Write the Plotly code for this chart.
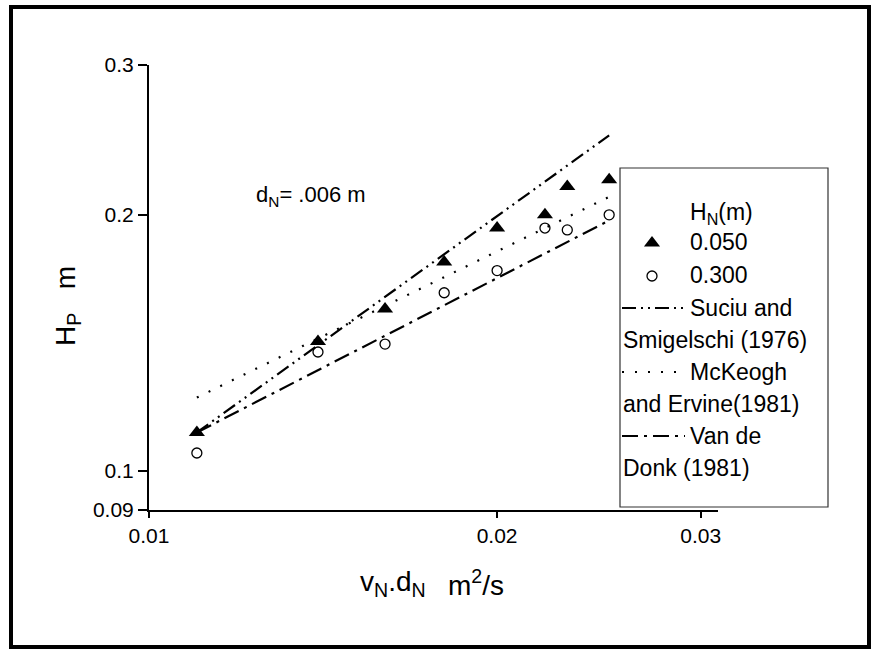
import plotly.graph_objects as go
import math

W, H = 872, 655

# ---- data ----
vd_obs = [0.011, 0.014, 0.016, 0.018, 0.020, 0.022, 0.023, 0.025]
hp_050 = [0.111, 0.142, 0.155, 0.176, 0.193, 0.200, 0.216, 0.220]
hp_300 = [0.105, 0.138, 0.141, 0.162, 0.172, 0.193, 0.192, 0.200]

vd_line = [0.011, 0.025]
hp_suciu = [0.111, 0.248]
hp_mckeogh = [0.122, 0.210]
hp_vandonk = [0.111, 0.197]

x_ticks = [0.01, 0.02, 0.03]
x_ticktext = ["0.01", "0.02", "0.03"]
y_ticks = [0.09, 0.1, 0.2, 0.3]
y_ticktext = ["0.09", "0.1", "0.2", "0.3"]

FONT = "Liberation Sans, Arial, sans-serif"

# plot area in pixels
L, R, T, B = 149, 718, 65, 510

def PX(x):
    return (x - L) / (R - L)

def PY(y):
    return (B - y) / (B - T)

SUCIU_DASH = "14px,5px,2px,5px,2px,5px"
MCK_DASH = "2px,11px"
VAN_DASH = "16px,6px,3px,6px"

fig = go.Figure()

fig.add_trace(go.Scatter(x=vd_line, y=hp_suciu, mode="lines",
                         line=dict(color="black", width=2.2, dash=SUCIU_DASH), showlegend=False))
fig.add_trace(go.Scatter(x=vd_line, y=hp_mckeogh, mode="lines",
                         line=dict(color="black", width=2.2, dash=MCK_DASH), showlegend=False))
fig.add_trace(go.Scatter(x=vd_line, y=hp_vandonk, mode="lines",
                         line=dict(color="black", width=2.2, dash=VAN_DASH), showlegend=False))
fig.add_trace(go.Scatter(x=vd_obs, y=hp_050, mode="markers", cliponaxis=False,
                         marker=dict(symbol="triangle-up", size=14, color="black"), showlegend=False))
fig.add_trace(go.Scatter(x=vd_obs, y=hp_300, mode="markers", cliponaxis=False,
                         marker=dict(symbol="circle-open", size=10, color="black", line=dict(width=1.3)),
                         showlegend=False))

# legend marker samples on a pixel overlay axis
fig.add_trace(go.Scatter(x=[652], y=[243], mode="markers", xaxis="x2", yaxis="y2", cliponaxis=False,
                         marker=dict(symbol="triangle-up", size=14, color="black"), showlegend=False))
fig.add_trace(go.Scatter(x=[652], y=[276], mode="markers", xaxis="x2", yaxis="y2", cliponaxis=False,
                         marker=dict(symbol="circle-open", size=10, color="black", line=dict(width=1.3)),
                         showlegend=False))

shapes = []
# outer frame
shapes.append(dict(type="rect", xref="paper", yref="paper",
                   x0=PX(11), x1=PX(869), y0=PY(7), y1=PY(647),
                   line=dict(color="black", width=4)))
# legend box
shapes.append(dict(type="rect", xref="paper", yref="paper",
                   x0=PX(620), x1=PX(828), y0=PY(168), y1=PY(507),
                   line=dict(color="#333333", width=1.2), layer="above"))
# legend line samples
for yy, dash in [(308, SUCIU_DASH), (372, MCK_DASH), (436, VAN_DASH)]:
    shapes.append(dict(type="line", xref="paper", yref="paper",
                       x0=PX(622), x1=PX(685), y0=PY(yy), y1=PY(yy),
                       line=dict(color="black", width=2.2, dash=dash), layer="above"))

annotations = []
def txt(x, y, s, size=23, anchor="left", angle=0):
    annotations.append(dict(x=PX(x), y=PY(y), xref="paper", yref="paper", text=s,
                            showarrow=False, xanchor=anchor, yanchor="middle", textangle=angle,
                            font=dict(family=FONT, size=size, color="black")))

txt(688, 213, "H<sub>N</sub>(m)")
txt(688, 242, "0.050")
txt(688, 275, "0.300")
txt(688, 308, "Suciu and")
txt(621, 340, "Smigelschi (1976)")
txt(688, 372, "McKeogh")
txt(621, 404, "and Ervine(1981)")
txt(688, 436, "Van de")
txt(621, 468, "Donk (1981)")

txt(254, 196, "d<sub>N</sub>= .006 m", size=22)
# x-axis title (two parts, as spaced in the original)
txt(428, 583, "v<sub>N</sub>.d<sub>N</sub>", size=28, anchor="right")
txt(446, 583, "m<sup>2</sup>/s", size=28, anchor="left")
# y-axis title
txt(67, 306, "H<sub>P</sub>\u00a0\u00a0\u00a0m", size=28, anchor="center", angle=-90)

fig.update_layout(
    width=W, height=H, autosize=False,
    margin=dict(l=L, r=W - R, t=T, b=H - B, pad=0),
    paper_bgcolor="white",
    plot_bgcolor="white",
    showlegend=False,
    xaxis=dict(type="log", range=[math.log10(0.01), math.log10(0.03105)],
               tickvals=x_ticks, ticktext=x_ticktext, ticks="outside", ticklen=6, tickwidth=1.5,
               tickcolor="black", showline=True, linecolor="black", linewidth=2,
               showgrid=False, zeroline=False, automargin=False,
               tickfont=dict(family=FONT, size=21, color="black")),
    yaxis=dict(type="log", range=[math.log10(0.09), math.log10(0.3)],
               tickvals=y_ticks, ticktext=y_ticktext, ticks="outside", ticklen=9, tickwidth=1.5,
               tickcolor="black", showline=True, linecolor="black", linewidth=2,
               showgrid=False, zeroline=False, automargin=False,
               tickfont=dict(family=FONT, size=21, color="black")),
    xaxis2=dict(overlaying="x", range=[L, R], visible=False, anchor="y", fixedrange=True),
    yaxis2=dict(overlaying="y", range=[B, T], visible=False, anchor="x", fixedrange=True),
    shapes=shapes,
    annotations=annotations,
)

fig.write_html("out.html")
